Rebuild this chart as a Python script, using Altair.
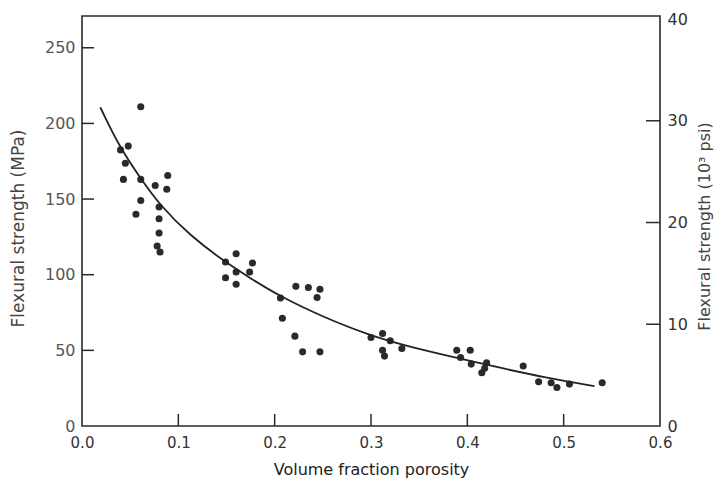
import altair as alt
import pandas as pd

# Measured data (volume fraction porosity vs flexural strength, MPa)
porosity = [0.061, 0.048, 0.040, 0.045, 0.043, 0.061, 0.089, 0.076, 0.088, 0.061, 0.056,
            0.080, 0.080, 0.080, 0.078, 0.081,
            0.160, 0.149, 0.177, 0.160, 0.174, 0.149, 0.160, 0.222, 0.235, 0.247, 0.244,
            0.206, 0.208, 0.221, 0.229, 0.247,
            0.300, 0.312, 0.320, 0.312, 0.314, 0.332, 0.389, 0.403, 0.393, 0.404, 0.420,
            0.418, 0.415, 0.458, 0.474, 0.487, 0.493, 0.506, 0.540]
strength_mpa = [211, 185, 182.5, 173.7, 163, 163, 165.6, 159, 156.5, 149, 140,
                144.7, 137, 127.5, 119, 115,
                113.9, 108.4, 107.7, 101.8, 101.8, 98, 93.7, 92.3, 91.5, 90.4, 84.9,
                84.6, 71.2, 59.4, 49, 49,
                58.5, 61.1, 56.3, 50.1, 46.2, 51.2, 50.1, 50.1, 45.3, 40.9, 41.8,
                38.1, 35.2, 39.6, 29.2, 28.6, 25.5, 27.7, 28.6]

# Fitted curve
curve_porosity = [0.019, 0.039, 0.060, 0.081, 0.112, 0.146, 0.174, 0.205, 0.250, 0.298,
                  0.340, 0.392, 0.416, 0.485, 0.532]
curve_mpa = [210.6, 184.3, 164.4, 145.8, 126.0, 109.5, 98.0, 85.8, 72.1, 60.0,
             52.3, 44.6, 41.0, 31.4, 26.4]

x_labels = [0.0, 0.1, 0.2, 0.3, 0.4, 0.5, 0.6]
x_inner_ticks = [0.1, 0.2, 0.3, 0.4, 0.5]
mpa_labels = [0, 50, 100, 150, 200, 250]
mpa_inner_ticks = [50, 100, 150, 200, 250]
ksi_labels = [0, 10, 20, 30, 40]
ksi_inner_ticks = [10, 20, 30]

W, H = 578, 410
FONT = "DejaVu Sans"
INK = "#2a2a2a"

pts = pd.DataFrame({"x": porosity, "mpa": strength_mpa})
crv = pd.DataFrame({"x": curve_porosity, "mpa": curve_mpa})

xscale = alt.Scale(domain=[0, 0.6], nice=False, zero=False)
yscale = alt.Scale(domain=[0, 271], nice=False)
kscale = alt.Scale(domain=[0, 40.3], nice=False)

x_axis = alt.Axis(values=x_labels, format=".1f", ticks=False, domain=False, grid=False,
                  labelFlush=False, labelOverlap=False, labelPadding=9, labelFontSize=15,
                  labelColor="#333", labelFont=FONT,
                  title="Volume fraction porosity", titleFontSize=16, titleFontWeight="normal",
                  titleColor="#222", titleFont=FONT, titleBaseline="alphabetic", titleY=48)

y_axis = alt.Axis(values=mpa_labels, ticks=False, domain=False, grid=False,
                  labelPadding=7, labelFontSize=16, labelColor="#555", labelFont=FONT,
                  labelOverlap=False,
                  title="Flexural strength (MPa)", titleFontSize=17, titleColor="#444",
                  titleFontWeight="normal", titleFont=FONT, titleAngle=270, titleX=-64,
                  titleY=212, titleBaseline="middle", titleAlign="center")

k_axis = alt.Axis(orient="right", values=ksi_labels, ticks=False, domain=False, grid=False,
                  labelPadding=7, labelFontSize=16, labelColor="#333", labelFont=FONT,
                  labelOverlap=False,
                  title="Flexural strength (10³ psi)", titleFontSize=16, titleColor="#444",
                  titleFontWeight="normal", titleFont=FONT, titleAngle=270, titleX=44,
                  titleY=210, titleBaseline="middle", titleAlign="center")

X = alt.X("x:Q", scale=xscale, axis=x_axis)
Y = alt.Y("mpa:Q", scale=yscale, axis=y_axis)

points = alt.Chart(pts).mark_circle(size=50, color=INK, opacity=1).encode(x=X, y=Y)
curve = alt.Chart(crv).mark_line(color="#222", strokeWidth=1.8, interpolate="basis").encode(x=X, y=Y)

left_ticks = alt.Chart(pd.DataFrame({"mpa": mpa_inner_ticks})).mark_rule(
    color=INK, strokeWidth=1.5).encode(y=Y, x=alt.value(0), x2=alt.value(12))
bottom_ticks = alt.Chart(pd.DataFrame({"x": x_inner_ticks})).mark_rule(
    color=INK, strokeWidth=1.5).encode(x=X, y=alt.value(H), y2=alt.value(H - 12))

mpa_group = alt.layer(points, curve, left_ticks, bottom_ticks)

right_ticks = alt.Chart(pd.DataFrame({"ksi": ksi_inner_ticks})).mark_rule(
    color=INK, strokeWidth=1.5).encode(
    y=alt.Y("ksi:Q", scale=kscale, axis=k_axis), x=alt.value(W), x2=alt.value(W - 14))

chart = alt.layer(mpa_group, right_ticks).resolve_scale(y="independent").properties(
    width=W, height=H,
    autosize=alt.AutoSizeParams(type="none"),
    padding={"left": 74, "top": 8, "right": 54, "bottom": 52},
    background="white",
).configure_view(stroke=INK, strokeWidth=1.6)

chart.save("out.html", embed_options={"renderer": "svg", "actions": False})
